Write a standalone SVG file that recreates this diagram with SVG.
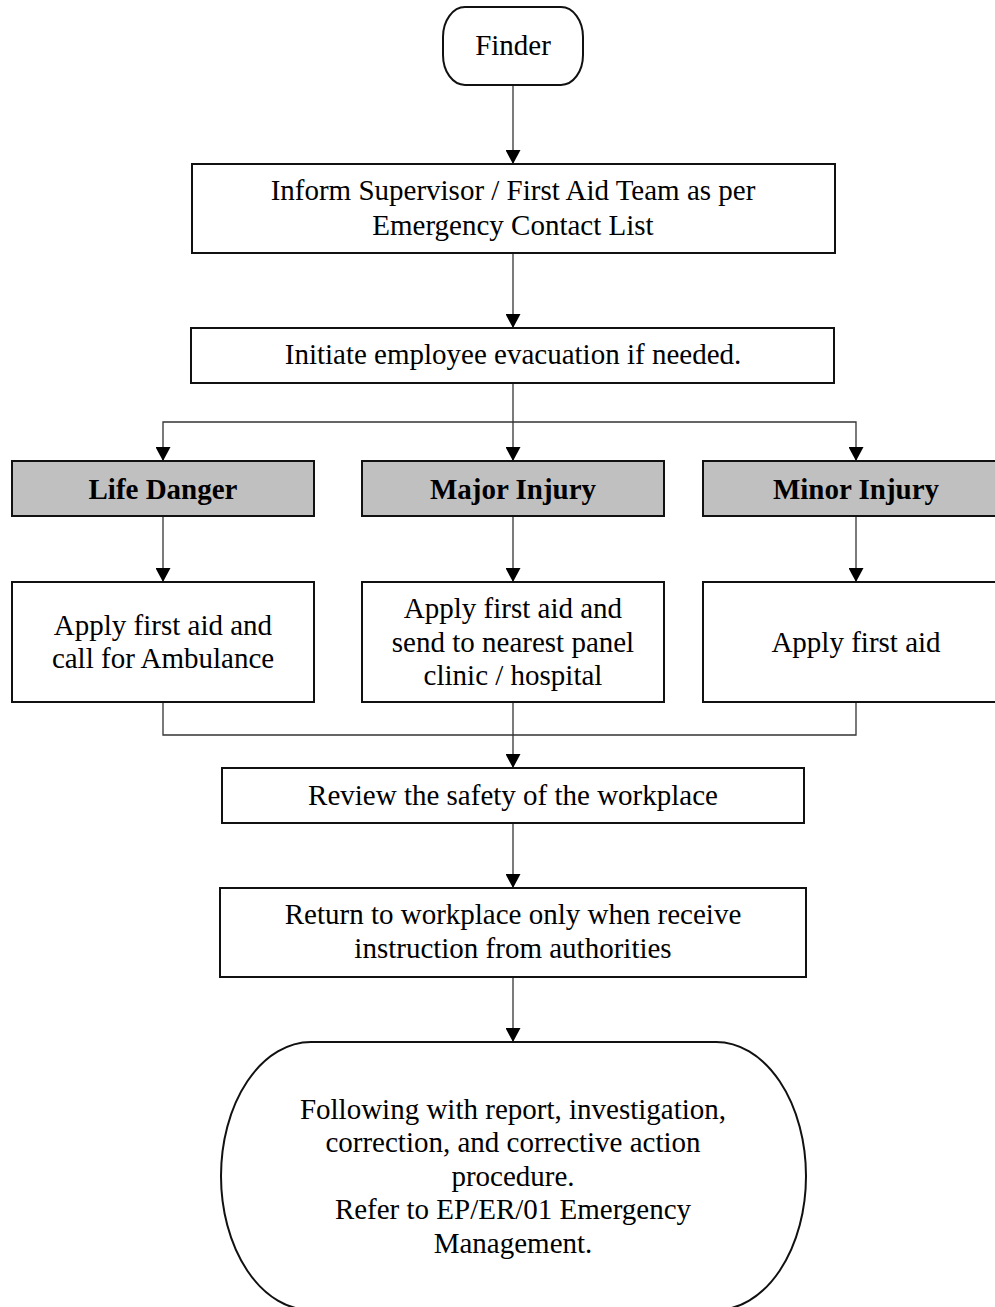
<svg xmlns="http://www.w3.org/2000/svg" width="995" height="1307" viewBox="0 0 995 1307">
<style>
.box{fill:#ffffff;stroke:#111111;stroke-width:2}
.cat{fill:#c0c0c0;stroke:#111111;stroke-width:2}
.t{font-family:"Liberation Serif","Times New Roman",serif;font-size:29px;fill:#000000;text-anchor:middle}
.b{font-weight:bold}
.c{fill:none;stroke:#333333;stroke-width:1.3}
.a{marker-end:url(#arr)}
</style>
<defs>
<marker id="arr" markerUnits="userSpaceOnUse" markerWidth="15" markerHeight="15" refX="14" refY="7.5" orient="auto">
<path d="M0,0 L14,7.5 L0,15 z" fill="#000000"/>
</marker>
</defs>
<rect width="995" height="1307" fill="#ffffff"/>
<g id="connectors">
<path class="c a" d="M513,85 V164"/>
<path class="c a" d="M513,253 V328"/>
<path class="c a" d="M513,383 V461"/>
<path class="c a" d="M513,422 H163 V461"/>
<path class="c a" d="M513,422 H856 V461"/>
<path class="c a" d="M163,516 V582"/>
<path class="c a" d="M513,516 V582"/>
<path class="c a" d="M856,516 V582"/>
<path class="c" d="M163,702 V735 H856 V702"/>
<path class="c a" d="M513,702 V768"/>
<path class="c a" d="M513,823 V888"/>
<path class="c a" d="M513,977 V1042"/>
</g>
<g id="finder">
<rect class="box" x="443" y="7" width="140" height="78" rx="22" ry="30"/>
<text class="t" x="513" y="55">Finder</text>
</g>
<g id="inform">
<rect class="box" x="192" y="164" width="643" height="89"/>
<text class="t" x="513" y="200">Inform Supervisor / First Aid Team as per</text>
<text class="t" x="513" y="235">Emergency Contact List</text>
</g>
<g id="initiate">
<rect class="box" x="191" y="328" width="643" height="55"/>
<text class="t" x="513" y="364">Initiate employee evacuation if needed.</text>
</g>
<g id="life-danger">
<rect class="cat" x="12" y="461" width="302" height="55"/>
<text class="t b" x="163" y="499">Life Danger</text>
</g>
<g id="major-injury">
<rect class="cat" x="362" y="461" width="302" height="55"/>
<text class="t b" x="513" y="499">Major Injury</text>
</g>
<g id="minor-injury">
<rect class="cat" x="703" y="461" width="302" height="55"/>
<text class="t b" x="856" y="499">Minor Injury</text>
</g>
<g id="life-action">
<rect class="box" x="12" y="582" width="302" height="120"/>
<text class="t" x="163" y="635">Apply first aid and</text>
<text class="t" x="163" y="668">call for Ambulance</text>
</g>
<g id="major-action">
<rect class="box" x="362" y="582" width="302" height="120"/>
<text class="t" x="513" y="618">Apply first aid and</text>
<text class="t" x="513" y="652">send to nearest panel</text>
<text class="t" x="513" y="685">clinic / hospital</text>
</g>
<g id="minor-action">
<rect class="box" x="703" y="582" width="302" height="120"/>
<text class="t" x="856" y="652">Apply first aid</text>
</g>
<g id="review">
<rect class="box" x="222" y="768" width="582" height="55"/>
<text class="t" x="513" y="805">Review the safety of the workplace</text>
</g>
<g id="return">
<rect class="box" x="220" y="888" width="586" height="89"/>
<text class="t" x="513" y="924">Return to workplace only when receive</text>
<text class="t" x="513" y="958">instruction from authorities</text>
</g>
<g id="follow-up">
<rect class="box" x="221" y="1042" width="585" height="268" rx="90" ry="134"/>
<text class="t" x="513" y="1119">Following with report, investigation,</text>
<text class="t" x="513" y="1152">correction, and corrective action</text>
<text class="t" x="513" y="1186">procedure.</text>
<text class="t" x="513" y="1219">Refer to EP/ER/01 Emergency</text>
<text class="t" x="513" y="1253">Management.</text>
</g>
</svg>
